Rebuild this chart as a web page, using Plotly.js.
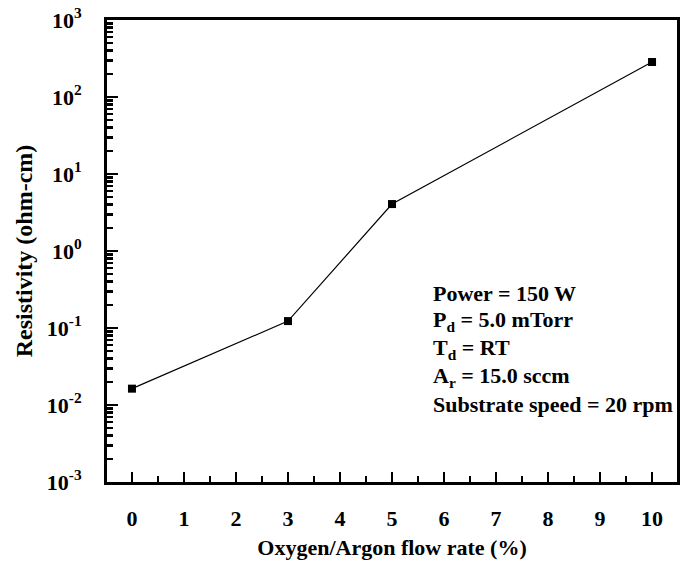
<!DOCTYPE html>
<html>
<head>
<meta charset="utf-8">
<script src="https://cdn.plot.ly/plotly-3.0.1.min.js"></script>
<style>html,body{margin:0;padding:0;background:#fff;}</style>
</head>
<body>
<div id="chart" style="width:689px;height:564px;"></div>
<script>
const flowRate = [0, 3, 5, 10];
const resistivity = [0.0163, 0.123, 4.07, 285];
const yTickVals = [1e-3, 1e-2, 1e-1, 1, 10, 100, 1000];
const yTickText = ['10<sup>-3</sup>', '10<sup>-2</sup>', '10<sup>-1</sup>', '10<sup>0</sup>', '10<sup>1</sup>', '10<sup>2</sup>', '10<sup>3</sup>'];
const noteLines = [
  'Power = 150 W',
  'P<sub>d</sub> = 5.0 mTorr',
  'T<sub>d</sub> = RT',
  'A<sub>r</sub> = 15.0 sccm',
  'Substrate speed = 20 rpm'
];

const fontFam = '"Liberation Serif", "Times New Roman", serif';

const trace = {
  x: flowRate,
  y: resistivity,
  mode: 'lines+markers',
  type: 'scatter',
  line: {color: '#000', width: 1.2},
  marker: {symbol: 'square', size: 8, color: '#000'},
  showlegend: false
};

const annotations = noteLines.map((t, i) => ({
  text: t,
  xref: 'paper', yref: 'paper',
  x: 0.568, y: 0.409 - i * 0.0605,
  xanchor: 'left', yanchor: 'middle',
  showarrow: false,
  font: {family: fontFam, size: 22, color: '#000', weight: 'bold'}
}));

const layout = {
  width: 689, height: 564,
  margin: {l: 107, r: 12, t: 20, b: 82},
  paper_bgcolor: '#fff', plot_bgcolor: '#fff',
  font: {family: fontFam, color: '#000', size: 22, weight: 'bold'},
  xaxis: {
    range: [-0.48, 10.48],
    tick0: 0, dtick: 1,
    ticks: 'inside', ticklen: 10, tickwidth: 2.5, tickcolor: '#000',
    minor: {tick0: 0.5, dtick: 0.5, ticks: 'inside', ticklen: 6, tickwidth: 2.5, tickcolor: '#000'},
    showline: true, linewidth: 3, linecolor: '#000', mirror: true,
    showgrid: false, zeroline: false,
    ticklabelstandoff: 15,
    tickfont: {family: fontFam, size: 22, weight: 'bold'},
    title: {text: 'Oxygen/Argon flow rate (%)', font: {family: fontFam, size: 22, weight: 'bold'}, standoff: 10},
    automargin: false
  },
  yaxis: {
    type: 'log',
    range: [-3, 3],
    tickmode: 'array', tickvals: yTickVals, ticktext: yTickText,
    ticks: 'inside', ticklen: 11, tickwidth: 2.5, tickcolor: '#000',
    minor: {dtick: 'D1', ticks: 'inside', ticklen: 6, tickwidth: 2.5, tickcolor: '#000'},
    showline: true, linewidth: 3, linecolor: '#000', mirror: true,
    showgrid: false, zeroline: false,
    ticklabelstandoff: 18,
    tickfont: {family: fontFam, size: 22, weight: 'bold'},
    title: {text: 'Resistivity (ohm-cm)', font: {family: fontFam, size: 24, weight: 'bold'}, standoff: 8},
    automargin: false
  },
  annotations: annotations
};

Plotly.newPlot('chart', [trace], layout, {displayModeBar: false, staticPlot: true});
</script>
</body>
</html>
